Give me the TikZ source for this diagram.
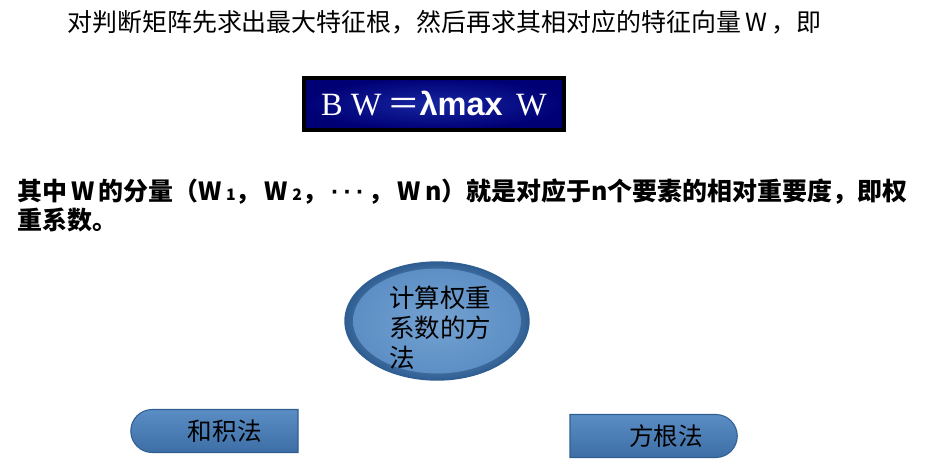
\documentclass[tikz,border=0pt]{standalone}
\usepackage{fontspec}
\setmainfont{Liberation Serif}
\newfontfamily\cjk{Noto Sans CJK SC}
\newfontfamily\arial{Liberation Sans}
\usetikzlibrary{shapes.geometric,shapes.misc}
\definecolor{navy}{HTML}{000075}
\definecolor{navyglow}{HTML}{1626A0}
\definecolor{paleblue}{HTML}{A4C6E6}
\definecolor{midblue}{HTML}{5A8DC4}
\definecolor{deepblue}{HTML}{3D6FA6}
\definecolor{rimblue}{HTML}{2F5E93}

\begin{document}
\begin{tikzpicture}[x=0.02cm,y=-0.02cm,
    textline/.style={font=\cjk\fontsize{14.2}{17}\selectfont,inner sep=0pt},
    method/.style={ellipse,draw=rimblue,line width=0.8pt,
      inner color=paleblue,outer color=rimblue,
      minimum width=3.68cm,minimum height=2.36cm,inner sep=0pt,
      path picture={\shade[inner color=midblue!65!paleblue,outer color=midblue]
        (path picture bounding box.center) ellipse [x radius=1.68cm,y radius=1.05cm];}},
    methodtext/.style={font=\cjk\fontsize{14.5}{17}\selectfont,align=left,inner sep=0pt},
    button/.style={rounded rectangle,draw=rimblue,line width=0.6pt,
      top color=midblue,middle color=paleblue,bottom color=deepblue,
      minimum width=3.58cm,minimum height=0.86cm,
      font=\cjk\fontsize{14}{17}\selectfont}]
    \useasboundingbox (0,0) rectangle (935,464);
    % first sentence
    \node[textline,anchor=west] (intro) at (67,22)
      {对判断矩阵先求出最大特征根，然后再求其相对应的特征向量\,W\,，即};
    % formula box
    \node[draw=black,line width=2.4pt,inner color=navyglow,outer color=navy,
      minimum width=5.2cm,minimum height=1.04cm,text=white,
      font=\fontsize{18.5}{20}\selectfont] (eigen) at (434,104)
      {B W\,{\cjk ＝}{\arial\bfseries λmax}\, W};
    % meaning of W
    \node[textline,font=\cjk\bfseries\fontsize{14.2}{17}\selectfont,
      align=left,anchor=north west] (weights) at (17,178)
      {其中\,W\,的分量（W\,{\small 1}，\,W\,{\small 2}，\,{\arial\bfseries ·\,·\,·}\,，\,W\,n）就是对应于n个要素的相对重要度，即权\\重系数。};
    % methods
    \node[method] (method) at (437,321) {};
    \node[methodtext] (methodtext) at (440,328) {计算权重\\系数的方\\法};
    \node[button,rounded rectangle east arc=none] (sumprod) at (216,431) {\hspace{10pt}和积法};
    \node[button,rounded rectangle west arc=none] (rootm) at (652,436) {\hspace{16pt}方根法};
\end{tikzpicture}
\end{document}
